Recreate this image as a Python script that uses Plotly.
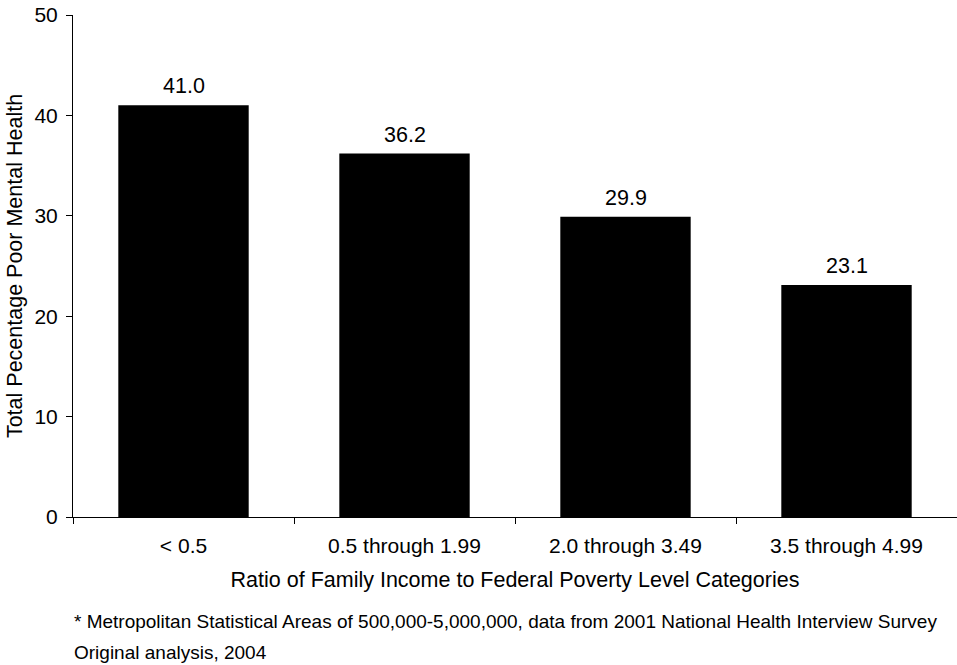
import plotly.graph_objects as go

categories = ["< 0.5", "0.5 through 1.99", "2.0 through 3.49", "3.5 through 4.99"]
values = [41.0, 36.2, 29.9, 23.1]
y_ticks = [0, 10, 20, 30, 40, 50]

FONT = "Liberation Sans, Arial, Helvetica, sans-serif"

fig = go.Figure(
    go.Bar(
        x=categories,
        y=values,
        width=0.59,
        marker=dict(color="black", line=dict(width=0)),
        hoverinfo="x+y",
    )
)

# value labels above each bar
value_labels = [
    dict(
        x=c, y=v, xref="x", yref="y",
        text=f"{v:.1f}", showarrow=False,
        yanchor="middle", yshift=19,
        font=dict(size=21.5),
    )
    for c, v in zip(categories, values)
]

footnotes = [
    dict(
        text="* Metropolitan Statistical Areas of 500,000-5,000,000, data from 2001 National Health Interview Survey",
        xref="paper", yref="paper",
        x=0, y=0, xanchor="left", yanchor="middle",
        xshift=-1, yshift=-104, showarrow=False,
        font=dict(size=19),
    ),
    dict(
        text="Original analysis, 2004",
        xref="paper", yref="paper",
        x=0, y=0, xanchor="left", yanchor="middle",
        xshift=-1, yshift=-135, showarrow=False,
        font=dict(size=19),
    ),
]

fig.update_layout(
    width=957,
    height=665,
    margin=dict(l=73, r=0, t=15, b=148),
    paper_bgcolor="white",
    plot_bgcolor="white",
    showlegend=False,
    font=dict(family=FONT, size=21, color="black"),
    xaxis=dict(
        type="category",
        range=[-0.5, 3.5],
        showline=True,
        linecolor="black",
        linewidth=1,
        ticks="outside",
        tickson="boundaries",
        ticklen=6,
        tickcolor="black",
        showgrid=False,
        zeroline=False,
        tickfont=dict(size=21),
        ticklabelstandoff=10,
        title=dict(
            text="Ratio of Family Income to Federal Poverty Level Categories",
            font=dict(size=21.5),
            standoff=15,
        ),
    ),
    yaxis=dict(
        range=[0, 50],
        tickvals=y_ticks,
        showline=True,
        linecolor="black",
        linewidth=1,
        ticks="outside",
        ticklen=6,
        tickcolor="black",
        showgrid=False,
        zeroline=False,
        tickfont=dict(size=21),
        ticklabelstandoff=4,
        title=dict(
            text="Total Pecentage Poor Mental Health",
            font=dict(size=21.5),
            standoff=5,
        ),
    ),
    annotations=value_labels + footnotes,
)

fig.write_html("out.html")
